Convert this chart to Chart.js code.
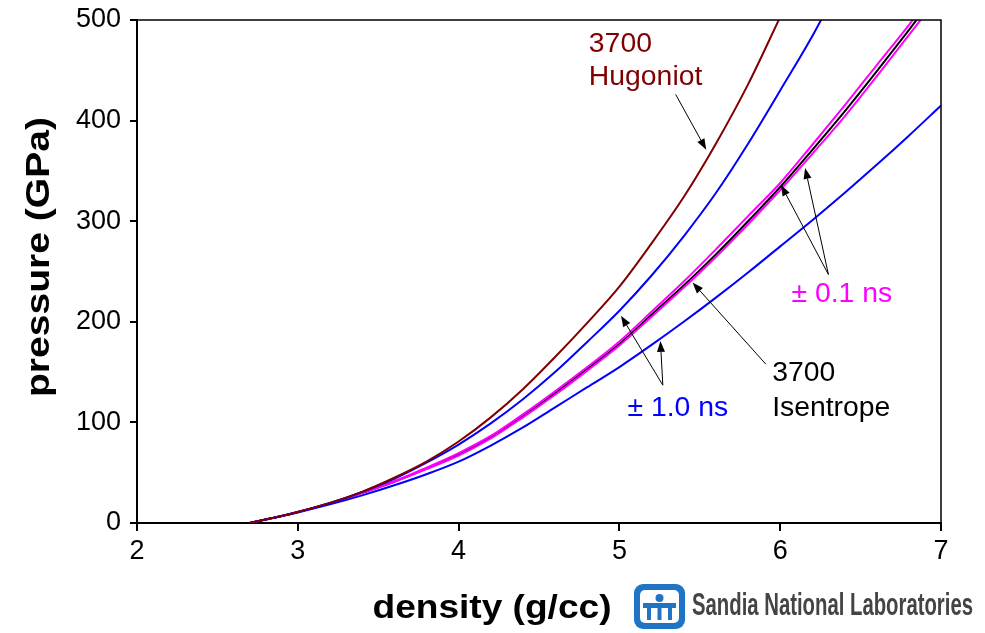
<!DOCTYPE html>
<html>
<head>
<meta charset="utf-8">
<script src="https://cdn.jsdelivr.net/npm/chart.js@4"></script>
<style>
    html, body { margin: 0; padding: 0; background: #fff; }
    #wrap { width: 985px; height: 633px; position: relative; }
</style>
</head>
<body>
<div id="wrap"><canvas id="myIsentrope" width="985" height="633"></canvas></div>
<script>
// density (g/cc) grid shared by every curve
const density = [2.7, 2.8, 2.9, 3.0, 3.2, 3.4, 3.6, 3.8, 4.0, 4.2, 4.4, 4.6, 4.8, 5.0, 5.2, 5.4, 5.6, 5.8, 6.0, 6.2, 6.4, 6.6, 6.8, 7.0];

// pressure (GPa)
const hugoniot3700 = [0, 3.5, 7, 11, 20, 31, 45, 61, 81, 105, 133, 165, 199, 235, 278, 324, 377, 436, 503, null, null, null, null, null];
const isentropeMinus1ns = [0, 3.5, 7, 11, 20, 31, 44, 60, 78, 99, 123, 150, 180, 211, 246, 285, 328, 377, 430, 484, 545, null, null, null];
const isentropePlus1ns = [0, 3.5, 7, 10.5, 18.5, 27.5, 37.5, 48.5, 61, 77, 95, 115, 135, 155, 177, 200, 224, 249, 275, 301, 328, 356, 385, 415];
const isentropeMinus01ns = [0, 3.5, 7, 11, 19.5, 30.5, 41.5, 55, 69.5, 86.5, 108, 131, 155, 180.5, 210, 240, 272, 305, 338, 376, 415, 455, 495, 537];
const isentropePlus01ns = [0, 3.5, 7, 11, 19.5, 30, 41, 53.5, 67, 84, 105, 127.5, 151.5, 176.5, 205, 234, 264.5, 297, 331, 367, 404, 444, 485, 526];
const isentrope3700 = [0, 3.5, 7, 11, 19.5, 30, 41, 54, 68, 85, 106, 129, 153, 178, 207, 236, 267, 300, 334, 371, 409, 449, 490, 532];

const xTicks = [2, 3, 4, 5, 6, 7];
const yTicks = [0, 100, 200, 300, 400, 500];

const FONT = "'Liberation Sans', Arial, Helvetica, sans-serif";

function pts(ys) {
    return density.map((d, i) => ({ x: d, y: ys[i] }));
}

function line(label, ys, color, width) {
    return {
        label: label,
        data: pts(ys),
        borderColor: color,
        backgroundColor: color,
        borderWidth: width,
        pointRadius: 0,
        fill: false,
        cubicInterpolationMode: 'monotone',
        spanGaps: false
    };
}

// labels and arrows, positioned in data units
const notes = [
    { text: ['3700', 'Hugoniot'], x: 4.81, y: [476, 443], color: '#800000' },
    { text: ['± 0.1 ns'], x: 6.07, y: [227], color: '#ff00ff' },
    { text: ['3700', 'Isentrope'], x: 5.95, y: [149, 114], color: '#000000' },
    { text: ['± 1.0 ns'], x: 5.05, y: [114], color: '#0000ff' }
];
const arrows = [
    { from: [5.35, 426], to: [5.54, 371] },
    { from: [6.30, 247], to: [6.005, 336] },
    { from: [6.30, 247], to: [6.155, 353] },
    { from: [5.91, 158], to: [5.455, 239] },
    { from: [5.27, 137], to: [5.01, 206] },
    { from: [5.27, 137], to: [5.255, 181] }
];

// draw text stretched to a given width
function stretchText(c, t, x, y, width) {
    const w = c.measureText(t).width;
    c.save();
    c.translate(x, y);
    c.scale(width / w, 1);
    c.fillText(t, 0, 0);
    c.restore();
}

const decorations = {
    id: 'decorations',
    afterDatasetsDraw(chart) {
        const c = chart.ctx;
        const xs = chart.scales.x, ys = chart.scales.y;
        const a = chart.chartArea;
        c.save();

        // frame on top and right
        c.strokeStyle = '#000';
        c.lineWidth = 1.5;
        c.beginPath();
        c.moveTo(a.left, a.top);
        c.lineTo(a.right, a.top);
        c.lineTo(a.right, a.bottom);
        c.stroke();

        // arrows
        c.lineWidth = 1;
        c.fillStyle = '#000';
        arrows.forEach(ar => {
            const x1 = xs.getPixelForValue(ar.from[0]), y1 = ys.getPixelForValue(ar.from[1]);
            const x2 = xs.getPixelForValue(ar.to[0]), y2 = ys.getPixelForValue(ar.to[1]);
            const ang = Math.atan2(y2 - y1, x2 - x1);
            const hl = 11, hw = 4;
            const bx = x2 - hl * Math.cos(ang), by = y2 - hl * Math.sin(ang);
            c.beginPath();
            c.moveTo(x1, y1);
            c.lineTo(bx, by);
            c.stroke();
            c.beginPath();
            c.moveTo(x2, y2);
            c.lineTo(bx + hw * Math.sin(ang), by - hw * Math.cos(ang));
            c.lineTo(bx - hw * Math.sin(ang), by + hw * Math.cos(ang));
            c.closePath();
            c.fill();
        });

        // labels
        c.font = '27px ' + FONT;
        c.textAlign = 'left';
        c.textBaseline = 'middle';
        notes.forEach(n => {
            c.fillStyle = n.color;
            n.text.forEach((t, i) => {
                const w = c.measureText(t).width * 1.05;
                stretchText(c, t, xs.getPixelForValue(n.x), ys.getPixelForValue(n.y[i]), w);
            });
        });

        // axis titles
        c.fillStyle = '#000';
        c.font = 'bold 33px ' + FONT;
        c.textAlign = 'center';
        stretchText(c, 'density (g/cc)', 492, 609, 239);
        c.save();
        c.translate(40, 257);
        c.rotate(-Math.PI / 2);
        stretchText(c, 'pressure (GPa)', 0, 0, 280);
        c.restore();

        // Sandia logo
        const lx = 634, ly = 584, lw = 51, lh = 45;
        c.fillStyle = '#1f74c4';
        c.beginPath();
        c.roundRect(lx, ly, lw, lh, 9);
        c.fill();
        c.fillStyle = '#fff';
        c.beginPath();
        c.roundRect(lx + 6, ly + 6, lw - 12, lh - 12, 5);
        c.fill();
        c.fillStyle = '#1f74c4';
        c.beginPath();
        c.arc(lx + lw / 2, ly + 14, 4, 0, Math.PI * 2);
        c.fill();
        c.fillRect(lx + 9, ly + 19, lw - 18, 5);
        c.fillRect(lx + 13, ly + 19, 4, 17);
        c.fillRect(lx + lw / 2 - 2, ly + 19, 4, 17);
        c.fillRect(lx + lw - 17, ly + 19, 4, 17);
        c.fillStyle = '#444';
        c.font = 'bold 32px ' + FONT;
        c.textAlign = 'left';
        c.textBaseline = 'middle';
        c.fillText('Sandia National Laboratories', 692, 606, 281);

        c.restore();
    }
};

new Chart(document.getElementById('myIsentrope'), {
    type: 'line',
    data: {
        datasets: [
            line('3700 Hugoniot', hugoniot3700, '#800000', 2),
            line('-1.0 ns', isentropeMinus1ns, '#0000ff', 2),
            line('+1.0 ns', isentropePlus1ns, '#0000ff', 2),
            line('-0.1 ns', isentropeMinus01ns, '#ff00ff', 2),
            line('+0.1 ns', isentropePlus01ns, '#ff00ff', 2),
            line('3700 Isentrope', isentrope3700, '#000000', 2)
        ]
    },
    options: {
        responsive: false,
        animation: false,
        devicePixelRatio: 1,
        layout: { padding: { left: 0, top: 20, right: 44, bottom: 0 } },
        plugins: {
            legend: { display: false },
            tooltip: { enabled: false }
        },
        scales: {
            x: {
                type: 'linear',
                min: 2,
                max: 7,
                afterFit: s => { s.height = 110; s.paddingLeft = 0; s.paddingRight = 0; },
                afterBuildTicks: s => { s.ticks = xTicks.map(v => ({ value: v })); },
                grid: { drawOnChartArea: false, drawTicks: true, tickLength: 8, color: '#000', lineWidth: 2 },
                border: { display: true, color: '#000', width: 2 },
                ticks: { color: '#000', padding: 4, font: { family: FONT, size: 27 } }
            },
            y: {
                type: 'linear',
                min: 0,
                max: 500,
                afterFit: s => { s.width = 137; s.paddingTop = 0; s.paddingBottom = 0; },
                afterBuildTicks: s => { s.ticks = yTicks.map(v => ({ value: v })); },
                grid: { drawOnChartArea: false, drawTicks: true, tickLength: 7, color: '#000', lineWidth: 2 },
                border: { display: true, color: '#000', width: 2 },
                ticks: { color: '#000', padding: 9, font: { family: FONT, size: 27 } }
            }
        }
    },
    plugins: [decorations]
});
</script>
</body>
</html>
